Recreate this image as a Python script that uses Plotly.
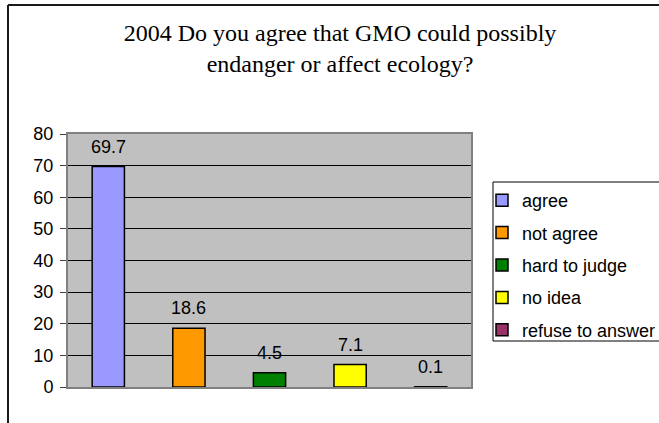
import plotly.graph_objects as go

categories = ["agree", "not agree", "hard to judge", "no idea", "refuse to answer"]
values = [69.7, 18.6, 4.5, 7.1, 0.1]
colors = ["#9999FF", "#FF9900", "#008000", "#FFFF00", "#993366"]
title_text = "2004 Do you agree that GMO could possibly<br>endanger or affect ecology?"
y_ticks = [0, 10, 20, 30, 40, 50, 60, 70, 80]

fig = go.Figure()
for i, (c, v, col) in enumerate(zip(categories, values, colors)):
    fig.add_trace(go.Bar(
        x=[c], y=[v], name=c, width=0.4,
        marker=dict(color=col, line=dict(color="black", width=1.5)),
        legendgroup=f"g{i}",
    ))
    fig.add_annotation(x=c, y=v, text=f"{v:g}", showarrow=False,
                       yshift=20, font=dict(family="Liberation Sans", size=18, color="black"))

W, H = 659, 423
L, R, T, B = 68, 188, 134, 36
pw, ph = W - L - R, H - T - B

def px_x(x):
    return (x - L) / pw

def px_y(y):
    return (H - B - y) / ph

# outer frame (left and top edges)
fig.add_shape(type="line", xref="paper", yref="paper",
              x0=px_x(8), y0=px_y(430), x1=px_x(8), y1=px_y(5),
              line=dict(color="#1a1a1a", width=2))
fig.add_shape(type="line", xref="paper", yref="paper",
              x0=px_x(8), y0=px_y(5), x1=px_x(665), y1=px_y(5),
              line=dict(color="#1a1a1a", width=2))
# legend box
fig.add_shape(type="rect", xref="paper", yref="paper",
              x0=px_x(493), y0=px_y(341), x1=px_x(680), y1=px_y(182),
              line=dict(color="black", width=1), fillcolor="white", layer="below")

fig.update_layout(
    width=W, height=H,
    margin=dict(l=L, r=R, t=T, b=B, autoexpand=False),
    paper_bgcolor="white",
    plot_bgcolor="#C0C0C0",
    barmode="overlay",
    title=dict(text=title_text, x=340 / W, xanchor="center",
               y=1 - 41 / H, yanchor="top", yref="container", xref="container",
               font=dict(family="Liberation Serif", size=24, color="black")),
    legend=dict(x=px_x(482), y=px_y(182), xanchor="left", yanchor="top",
                borderwidth=0, bgcolor="rgba(0,0,0,0)",
                font=dict(family="Liberation Sans", size=18, color="black"),
                tracegroupgap=6),
    showlegend=True,
)
fig.update_xaxes(showticklabels=False, ticks="", showgrid=False,
                 showline=True, linecolor="#808080", linewidth=2, mirror=True)
fig.update_yaxes(range=[0, 80], tickvals=y_ticks, showgrid=True, gridcolor="black", gridwidth=1,
                 ticks="outside", ticklen=6, tickcolor="#404040",
                 showline=True, linecolor="#808080", linewidth=2, mirror=True,
                 zeroline=False, ticklabelstandoff=3,
                 tickfont=dict(family="Liberation Sans", size=18, color="black"))

fig.write_html("out.html")
